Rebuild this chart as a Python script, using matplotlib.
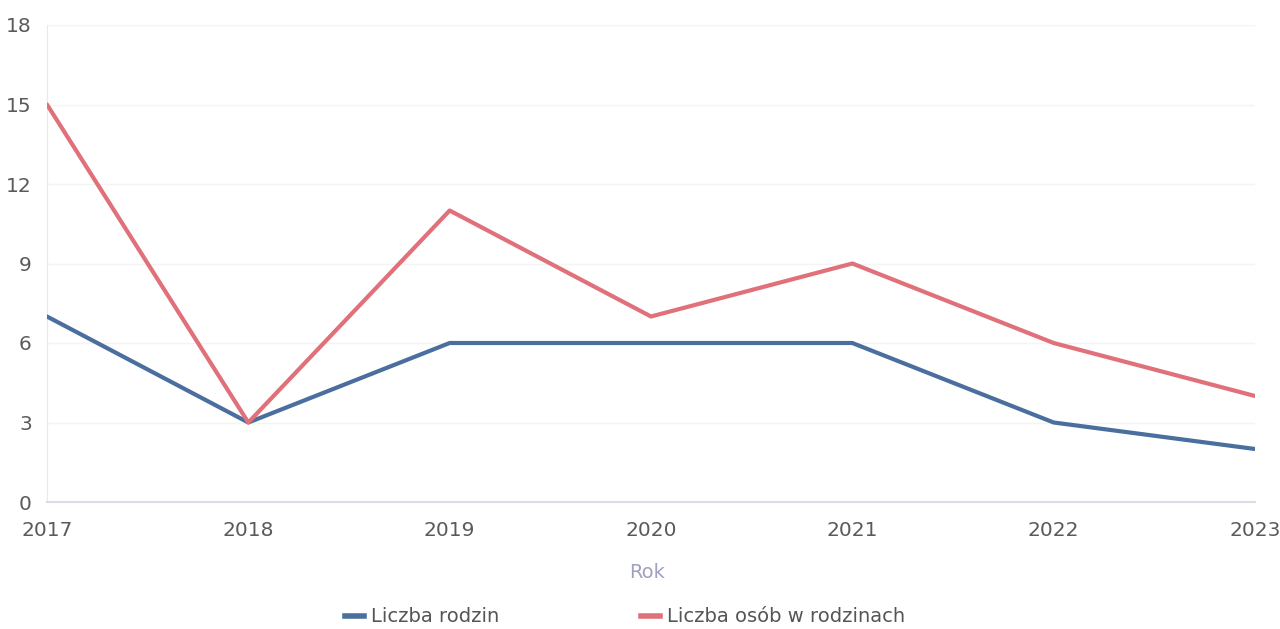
import matplotlib.pyplot as plt
from matplotlib.lines import Line2D

years = [2017, 2018, 2019, 2020, 2021, 2022, 2023]
rodziny = [7, 3, 6, 6, 6, 3, 2]
osoby = [15, 3, 11, 7, 9, 6, 4]

blue = '#4a6e9e'
red = '#e0707a'

fig = plt.figure(figsize=(12.8, 6.29), dpi=100)
ax = fig.add_axes([47 / 1280, 1 - 502 / 629, (1255 - 47) / 1280, (502 - 25) / 629])

ax.plot(years, rodziny, color=blue, lw=3, solid_capstyle='round', zorder=3)
ax.plot(years, osoby, color=red, lw=3, solid_capstyle='round', zorder=3)

ax.set_xlim(2017, 2023)
ax.set_ylim(0, 18)
ax.set_yticks(range(0, 19, 3))
ax.set_xticks(years)
ax.grid(axis='y', color='#f4f4f4', lw=1)
ax.set_axisbelow(True)

for s in ['top', 'right']:
    ax.spines[s].set_visible(False)
ax.spines['left'].set_color('#e8e8f0')
ax.spines['bottom'].set_color('#dcdce6')
ax.spines['bottom'].set_linewidth(1.5)
ax.tick_params(length=0, labelsize=14.5, colors='#5a5a5a')
ax.tick_params(axis='y', pad=11)
ax.tick_params(axis='x', pad=14)

fig.text(647 / 1280, 1 - 573 / 629, 'Rok', ha='center', va='center',
         fontsize=14, color='#a0a0c0')

# legend
handles = [Line2D([], [], color=blue, lw=4), Line2D([], [], color=red, lw=4)]
fig.legend(handles, ['Liczba rodzin', 'Liczba osób w rodzinach'],
           loc='center', bbox_to_anchor=(625 / 1280, 1 - 617 / 629),
           ncol=2, frameon=False, fontsize=14, labelcolor='#555555',
           handlelength=1.0, handletextpad=0.35, columnspacing=7.3)

fig.savefig('out.png', dpi=100, facecolor='white')
